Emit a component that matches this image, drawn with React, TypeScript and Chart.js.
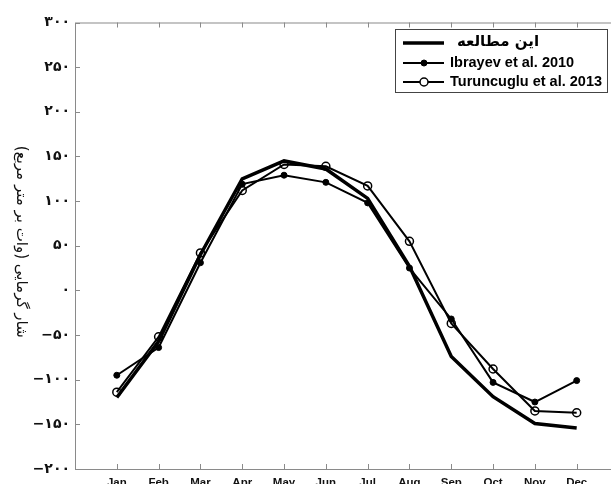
import React, { useEffect, useRef } from 'react';
import { Chart, registerables } from 'chart.js';

Chart.register(...registerables);

const MONTHS = ['Jan', 'Feb', 'Mar', 'Apr', 'May', 'Jun', 'Jul', 'Aug', 'Sep', 'Oct', 'Nov', 'Dec'];
const THIS_STUDY = [-120, -57, 40, 125, 145, 136, 103, 27, -74, -119, -149, -154];
const IBRAYEV = [-95, -64, 31, 119, 129, 121, 98, 25, -32, -103, -125, -101];
const TURUNCUGLU = [-114, -52, 42, 112, 141, 139, 117, 55, -37, -88, -135, -137];
const Y_TICKS = [-200, -150, -100, -50, 0, 50, 100, 150, 200, 250, 300];
const SERIES_LABELS = ['این مطالعه', 'Ibrayev et al. 2010', 'Turuncuglu et al. 2013'];
const Y_TITLE = 'شار گرمایی (وات بر متر مربع)';

const FA_DIGITS = '۰۱۲۳۴۵۶۷۸۹';
const toFa = (v: number) => {
  const s = String(Math.abs(v)).replace(/\d/g, (d) => FA_DIGITS[Number(d)]);
  return v < 0 ? '−' + s : s;
};

const AXIS_COLOR = '#8a8a8a';

const framePlugin = {
  id: 'frame',
  beforeDatasetsDraw(chart: any) {
    const { ctx, chartArea, scales } = chart;
    const { left, right, top, bottom } = chartArea;
    ctx.save();
    ctx.strokeStyle = AXIS_COLOR;
    ctx.lineWidth = 1;
    ctx.strokeRect(left + 0.5, top + 0.5, right - left, bottom - top);
    ctx.beginPath();
    scales.x.ticks.forEach((t: any) => {
      const px = Math.round(scales.x.getPixelForValue(t.value)) + 0.5;
      ctx.moveTo(px, bottom);
      ctx.lineTo(px, bottom - 5);
      ctx.moveTo(px, top);
      ctx.lineTo(px, top + 5);
    });
    scales.y.ticks.forEach((t: any) => {
      const py = Math.round(scales.y.getPixelForValue(t.value)) + 0.5;
      ctx.moveTo(left, py);
      ctx.lineTo(left + 5, py);
      ctx.moveTo(right, py);
      ctx.lineTo(right - 5, py);
    });
    ctx.stroke();
    ctx.restore();
  },
  afterDraw(chart: any) {
    const { ctx, chartArea } = chart;
    // y-axis title
    ctx.save();
    ctx.translate(21, (chartArea.top + chartArea.bottom) / 2 - 4);
    ctx.rotate(Math.PI / 2);
    ctx.fillStyle = '#111';
    ctx.font = '15px "DejaVu Sans"';
    ctx.textAlign = 'center';
    ctx.textBaseline = 'middle';
    ctx.fillText(Y_TITLE, 0, 0);
    ctx.restore();

    // legend
    const ds = chart.data.datasets;
    const bx = 395, by = 29, bw = 212, bh = 63;
    ctx.save();
    ctx.fillStyle = '#fff';
    ctx.fillRect(bx, by, bw, bh);
    ctx.strokeStyle = '#444';
    ctx.lineWidth = 1;
    ctx.strokeRect(bx + 0.5, by + 0.5, bw, bh);
    const rows = [43, 63, 82];
    rows.forEach((y, i) => {
      const d = ds[i];
      ctx.strokeStyle = '#000';
      ctx.lineWidth = d.borderWidth;
      ctx.beginPath();
      ctx.moveTo(403, y);
      ctx.lineTo(444, y);
      ctx.stroke();
      if (d.pointRadius > 0) {
        ctx.beginPath();
        ctx.arc(424, y, d.pointRadius, 0, Math.PI * 2);
        ctx.fillStyle = i === 1 ? '#000' : '#fff';
        ctx.fill();
        ctx.lineWidth = d.pointBorderWidth;
        ctx.stroke();
      }
      ctx.fillStyle = '#000';
      ctx.textBaseline = 'middle';
      if (i === 0) {
        ctx.font = 'bold 15px "DejaVu Sans"';
        ctx.textAlign = 'center';
        ctx.fillText(d.label, 498, y - 1);
      } else {
        ctx.font = 'bold 14.5px "Liberation Sans"';
        ctx.textAlign = 'left';
        ctx.fillText(d.label, 450, y);
      }
    });
    ctx.restore();
  },
};

export default function App() {
  const canvasRef = useRef<HTMLCanvasElement | null>(null);

  useEffect(() => {
    const canvas = canvasRef.current;
    if (!canvas) return;
    const toPts = (arr: number[]) => arr.map((y, i) => ({ x: i + 1, y }));
    const chart = new Chart(canvas, {
      type: 'line',
      data: {
        datasets: [
          {
            label: SERIES_LABELS[0],
            data: toPts(THIS_STUDY),
            borderColor: '#000',
            borderWidth: 3.5,
            pointRadius: 0,
            pointBorderWidth: 0,
            tension: 0,
          },
          {
            label: SERIES_LABELS[1],
            data: toPts(IBRAYEV),
            borderColor: '#000',
            borderWidth: 2,
            pointRadius: 3,
            pointBackgroundColor: '#000',
            pointBorderColor: '#000',
            pointBorderWidth: 1,
            tension: 0,
          },
          {
            label: SERIES_LABELS[2],
            data: toPts(TURUNCUGLU),
            borderColor: '#000',
            borderWidth: 2,
            pointRadius: 4,
            pointBackgroundColor: 'rgba(0,0,0,0)',
            pointBorderColor: '#000',
            pointBorderWidth: 1.5,
            tension: 0,
          },
        ],
      } as any,
      options: {
        responsive: false,
        animation: false,
        devicePixelRatio: 1,
        layout: { padding: { top: 22.5, right: 11.5, left: 0, bottom: 0 } },
        plugins: { legend: { display: false }, tooltip: { enabled: false } },
        scales: {
          x: {
            type: 'linear',
            min: 0,
            max: 13,
            grid: { display: false, drawTicks: false },
            border: { display: false },
            afterBuildTicks: (s: any) => {
              s.ticks = MONTHS.map((_, i) => ({ value: i + 1 }));
            },
            afterFit: (s: any) => {
              s.height = 15;
            },
            ticks: {
              autoSkip: false,
              maxRotation: 0,
              padding: 7,
              color: '#111',
              font: { family: '"Liberation Sans"', weight: 'bold', size: 11.5 },
              callback: (v: any) => MONTHS[Number(v) - 1] ?? '',
            },
          },
          y: {
            type: 'linear',
            min: -200,
            max: 300,
            grid: { display: false, drawTicks: false },
            border: { display: false },
            afterBuildTicks: (s: any) => {
              s.ticks = Y_TICKS.map((v) => ({ value: v }));
            },
            afterFit: (s: any) => {
              s.width = 75;
            },
            ticks: {
              padding: 5,
              color: '#111',
              font: { family: '"DejaVu Sans"', weight: 'bold', size: 14 },
              callback: (v: any) => toFa(Number(v)),
            },
          },
        },
      } as any,
      plugins: [framePlugin],
    });
    return () => chart.destroy();
  }, []);

  return (
    <div
      style={{
        position: 'fixed',
        left: 0,
        top: 0,
        width: 611,
        height: 484,
        overflow: 'hidden',
        background: '#fff',
      }}
    >
      <canvas ref={canvasRef} width={630} height={484} style={{ display: 'block', width: 630, height: 484 }} />
    </div>
  );
}
